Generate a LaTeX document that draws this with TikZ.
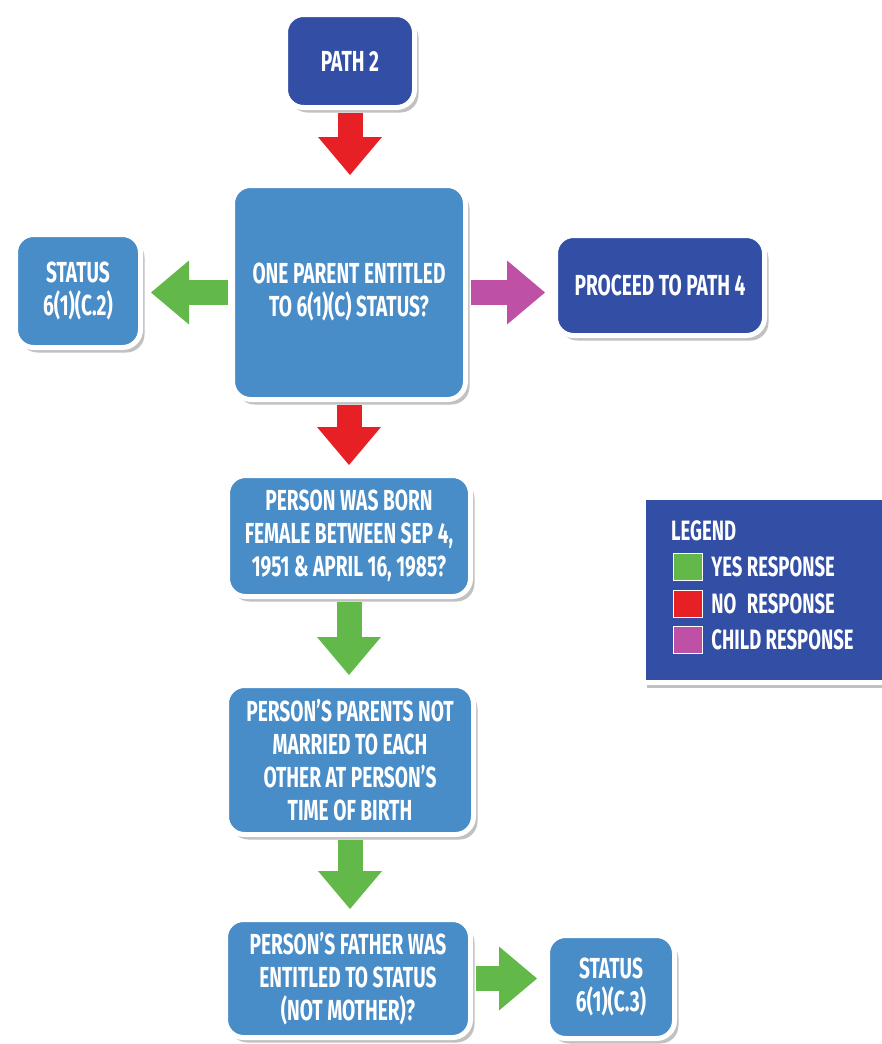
\documentclass[tikz,border=0pt]{standalone}
\usepackage{fontspec}
\setmainfont{Fira Sans}[FakeStretch=0.66]
\usetikzlibrary{arrows.meta,shadows}

\definecolor{navy}{RGB}{50,78,165}
\definecolor{sky}{RGB}{72,140,200}
\definecolor{yesgreen}{RGB}{98,184,72}
\definecolor{nored}{RGB}{230,32,36}
\definecolor{childpurple}{RGB}{190,80,165}

\begin{document}
\begin{tikzpicture}[x=1pt,y=-1pt,
  box/.style={draw=white, line width=5pt, rounded corners=18pt, text=white,
    font=\bfseries\fontsize{29}{33}\selectfont, align=center, inner sep=0pt,
    drop shadow={shadow xshift=4pt, shadow yshift=-5pt, opacity=0.35, fill=black!70}},
  darkbox/.style={box, fill=navy},
  lightbox/.style={box, fill=sky},
  fat/.style={line width=25pt, shorten <=2.5pt, shorten >=8pt,
    -{Triangle[width=64pt,length=38pt,line width=0pt]}},
  yes/.style={fat, draw=yesgreen},
  no/.style={fat, draw=nored},
  child/.style={fat, draw=childpurple},
  keybox/.style={draw=white, line width=1.5pt, minimum width=29pt, minimum height=27pt, inner sep=0pt},
  keytext/.style={anchor=west, text=white, inner sep=0pt, font=\bfseries\fontsize{28}{32}\selectfont}
]
\useasboundingbox (0,0) rectangle (882,1044);

% flowchart boxes
\node[darkbox, minimum width=129pt, minimum height=93pt] (path2) at (350,61) {PATH 2};
\node[lightbox, minimum width=233pt, minimum height=214pt] (q1) at (349,292.5) {ONE PARENT ENTITLED\\TO 6(1)(C) STATUS?};
\node[lightbox, minimum width=125pt, minimum height=113pt] (s2) at (78,291) {STATUS\\6(1)(C.2)};
\node[darkbox, minimum width=209pt, minimum height=100pt] (p4) at (660,285.5) {PROCEED TO PATH 4};
\node[lightbox, minimum width=243pt, minimum height=121pt] (q2) at (349,536) {PERSON WAS BORN\\FEMALE BETWEEN SEP 4,\\1951 \& APRIL 16, 1985?};
\node[lightbox, minimum width=247pt, minimum height=149pt] (q3) at (350,760) {PERSON’S PARENTS NOT\\MARRIED TO EACH\\OTHER AT PERSON’S\\TIME OF BIRTH};
\node[lightbox, minimum width=245pt, minimum height=118pt] (q4) at (348,978.5) {PERSON’S FATHER WAS\\ENTITLED TO STATUS\\(NOT MOTHER)?};
\node[lightbox, minimum width=127pt, minimum height=103pt] (s3) at (611,987) {STATUS\\6(1)(C.3)};

% response arrows
\draw[no] (path2.south) -- (path2.south |- q1.north);
\draw[yes] (q1.west) -- (q1.west -| s2.east);
\draw[child] (q1.east) -- (q1.east -| p4.west);
\draw[no] (q1.south) -- (q1.south |- q2.north);
\draw[yes] (q2.south) -- (q2.south |- q3.north);
\draw[yes] (q3.south) -- (q3.south |- q4.north);
\draw[yes] (q4.east) -- (q4.east -| s3.west);

% legend
\node[draw=white, fill=navy, line width=5pt, minimum width=260pt, minimum height=185pt, inner sep=0pt,
  drop shadow={shadow xshift=4pt, shadow yshift=-5pt, opacity=0.35, fill=black!70}] (legend) at (773,590) {};
\node[keytext] (ltitle) at (671,531) {LEGEND};
\node[keybox, fill=yesgreen] (kyes) at (688,567) {};
\node[keybox, fill=nored] (kno) at (688,604) {};
\node[keybox, fill=childpurple] (kchild) at (688,640) {};
\node[keytext] (tyes) at ([xshift=8pt]kyes.east) {YES RESPONSE};
\node[keytext] (tno) at ([xshift=8pt]kno.east) {\rlap{NO}\hphantom{YES} RESPONSE};
\node[keytext] (tchild) at ([xshift=8pt]kchild.east) {CHILD RESPONSE};
\end{tikzpicture}
\end{document}
